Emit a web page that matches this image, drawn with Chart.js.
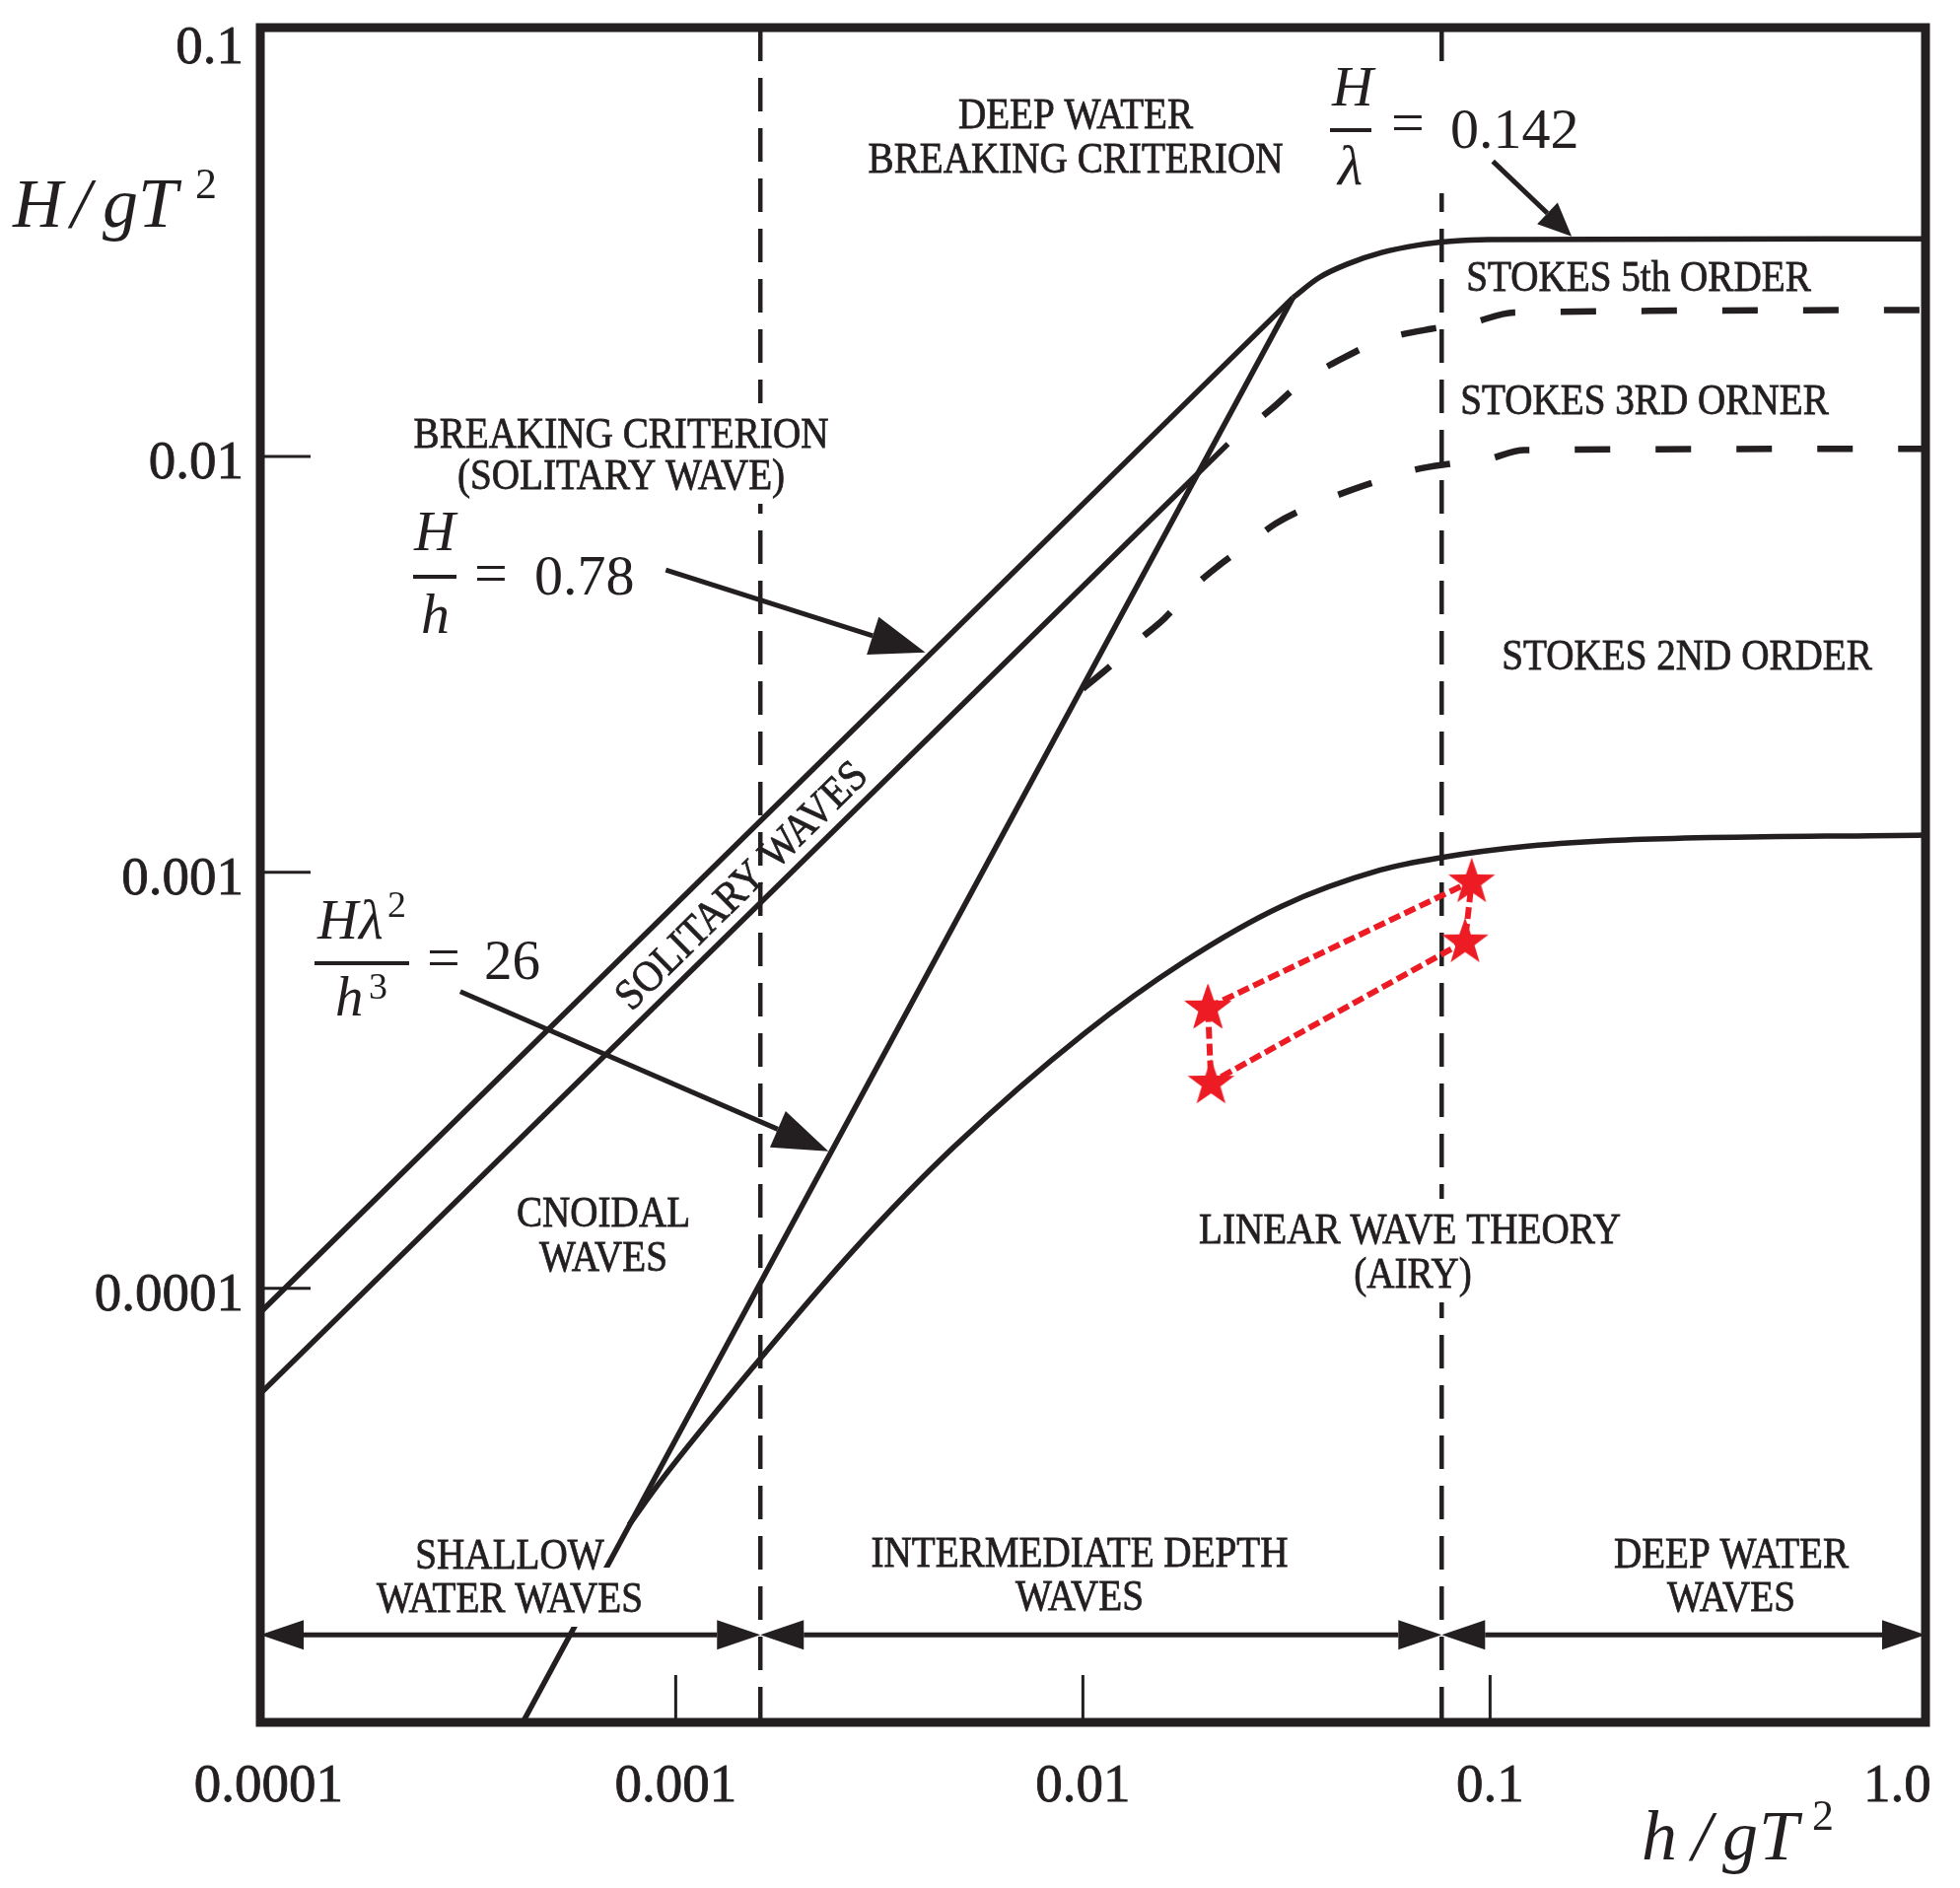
<!DOCTYPE html>
<html>
<head>
<meta charset="utf-8">
<title>Ranges of suitability for wave theories</title>
<script src="https://cdn.jsdelivr.net/npm/chart.js@4.4.1/dist/chart.umd.min.js"></script>
<style>
  html, body { margin: 0; padding: 0; background: #fff; }
  #chart { display: block; }
</style>
</head>
<body>
<canvas id="chart" width="1988" height="1915"></canvas>
<script>
// ===== Axes (h/gT^2 horizontal, H/gT^2 vertical, both log) =====
const xRange = [9.544e-5, 1.173];
const yRange = [9.045e-6, 0.1074];
const xTickValues = [0.0001, 0.001, 0.01, 0.1, 1];
const xTickLabels = ['0.0001', '0.001', '0.01', '0.1', '1.0'];
const yTickValues = [0.0001, 0.001, 0.01, 0.1];
const yTickLabels = ['0.0001', '0.001', '0.01', '0.1'];

// ===== Depth region limits =====
const shallowLimit = 0.001614;
const deepLimit = 0.07606;
const regionArrowY = 1.468e-5;

// ===== Curves =====
// H/h = 0.78 (solitary breaking)
const breakLineX = [9.544e-5, 0.0328];
const breakLineY = [8.75e-5, 0.02409];
// H/L = 0.142 (deep water breaking)
const deepBreakX = [0.0328, 0.03805, 0.04476, 0.05418, 0.06649, 0.07992, 0.09881, 1.173];
const deepBreakY = [0.02409, 0.02692, 0.02904, 0.03091, 0.03222, 0.03290, 0.03323, 0.03335];
// solitary / cnoidal
const solitaryX = [9.544e-5, 0.02271];
const solitaryY = [5.58e-5, 0.01072];
// Stokes 3rd / 5th order (dashed)
const stokes5X = [0.02271, 0.02908, 0.03445, 0.04382, 0.05418, 0.07186, 0.08824, 0.1146, 1.173];
const stokes5Y = [0.01072, 0.01302, 0.01505, 0.01729, 0.01905, 0.02027, 0.02084, 0.02218, 0.02248];
// Ursell number H L^2 / h^3 = 26
const ursellX = [4.211e-4, 0.0328];
const ursellY = [9.045e-6, 0.02409];
// Stokes 2nd / 3rd order (dashed)
const stokes3X = [0.01, 0.01185, 0.01384, 0.01583, 0.01863, 0.02146, 0.02578, 0.0297, 0.03672, 0.04382,
                  0.05379, 0.06465, 0.07992, 0.09811, 0.1213, 1.173];
const stokes3Y = [0.002763, 0.003173, 0.003644, 0.004071, 0.00484, 0.005444, 0.006209, 0.006887, 0.00764, 0.008188,
                  0.008774, 0.009273, 0.009601, 0.009835, 0.01036, 0.01043];
// linear (Airy) / Stokes 2nd order
const linearX = [0.0007682, 0.0009279, 0.001602, 0.002753, 0.004808, 0.01011, 0.0176, 0.03077, 0.05379,
                 0.07606, 0.1239, 0.215, 1.173];
const linearY = [2.7e-5, 3.486e-5, 6.726e-5, 1.245e-4, 2.181e-4, 4.108e-4, 6.073e-4, 8.291e-4, 1.013e-3,
                 1.086e-3, 1.156e-3, 1.196e-3, 1.23e-3];
// test cases (red stars), closed loop
const caseX = [0.02028, 0.09013, 0.08681, 0.02064, 0.02028];
const caseY = [4.734e-4, 9.522e-4, 6.829e-4, 3.125e-4, 4.734e-4];

// ===== Pointer arrows (from, to) =====
const pointerFromX = [9.456e-4, 2.958e-4, 0.1016];
const pointerFromY = [5.332e-3, 5.168e-4, 0.05122];
const pointerToX = [4.103e-3, 2.372e-3, 0.1586];
const pointerToY = [3.377e-3, 2.136e-4, 0.03381];

const ink = '#231f20';
const red = '#ed1c24';
const serif = '"Liberation Serif", "Times New Roman", serif';

// ===== Star marker =====
const starImg = document.createElement('canvas');
starImg.width = 52;
starImg.height = 52;
(function () {
    const c = starImg.getContext('2d');
    c.fillStyle = red;
    c.beginPath();
    for (let i = 0; i < 10; i++) {
        const r = i % 2 ? 10 : 25;
        const a = -Math.PI / 2 + i * Math.PI / 5;
        c.lineTo(26 + r * Math.cos(a), 27 + r * Math.sin(a));
    }
    c.closePath();
    c.fill();
})();

function pts(xs, ys) { return xs.map((x, i) => ({ x: x, y: ys[i] })); }

function lineSet(xs, ys, extra) {
    return Object.assign({
        data: pts(xs, ys), showLine: true, borderColor: ink, borderWidth: 5.5,
        pointRadius: 0, fill: false, tension: 0
    }, extra || {});
}

const dashCurve = { borderWidth: 6.5, borderDash: [36, 46], cubicInterpolationMode: 'monotone' };
const dashVert = { borderWidth: 4.5, borderDash: [34, 17] };

// ===== Labels (caps, centre x / centre y) =====
const capsLabels = [
    ['DEEP WATER', 1091, 115, false],
    ['BREAKING CRITERION', 1091, 160, false],
    ['BREAKING CRITERION', 630, 439, true],
    ['(SOLITARY WAVE)', 630, 481, true],
    ['STOKES 5th ORDER', 1662, 280, false],
    ['STOKES 3RD ORNER', 1668, 405, false],
    ['STOKES 2ND ORDER', 1711, 664, false],
    ['CNOIDAL', 612, 1229, false],
    ['WAVES', 612, 1274, false],
    ['LINEAR WAVE THEORY', 1430, 1246, true],
    ['(AIRY)', 1433, 1291, true],
    ['SHALLOW', 517, 1576, false],
    ['WATER WAVES', 517, 1620, true],
    ['INTERMEDIATE DEPTH', 1095, 1574, false],
    ['WAVES', 1095, 1618, false],
    ['DEEP WATER', 1756, 1575, false],
    ['WAVES', 1756, 1619, false]
];

// formula glyphs: text, left x, baseline y, size, italic
const formulaGlyphs = [
    ['H', 420, 558, 58, true], ['h', 427, 642, 58, true], ['=', 481, 601, 60, false], ['0.78', 542, 603, 58, false],
    ['H', 322, 952, 57, true], ['\u03bb', 364, 952, 57, true], ['2', 393, 930, 38, false],
    ['h', 340, 1030, 57, true], ['3', 374, 1013, 38, false], ['=', 433, 991, 60, false], ['26', 491, 993, 57, false],
    ['H', 1351, 107, 58, true], ['\u03bb', 1357, 187, 58, true], ['=', 1411, 144, 60, false], ['0.142', 1471, 150, 58, false],
    ['H', 13, 230, 70, true], ['/', 72, 230, 72, true], ['g', 104, 230, 72, true], ['T', 140, 230, 72, true], ['2', 198, 201, 44, false],
    ['h', 1665, 1886, 72, true], ['/', 1716, 1886, 72, true], ['g', 1747, 1886, 72, true], ['T', 1784, 1886, 72, true], ['2', 1838, 1856, 44, false]
];
const fracBars = [[419, 463, 585], [319, 415, 977], [1349, 1391, 132]];

function arrowHead(ctx, x1, y1, x2, y2, len, half) {
    const a = Math.atan2(y2 - y1, x2 - x1);
    const bx = x2 - len * Math.cos(a), by = y2 - len * Math.sin(a);
    ctx.beginPath();
    ctx.moveTo(x2, y2);
    ctx.lineTo(bx + half * Math.sin(a), by - half * Math.cos(a));
    ctx.lineTo(bx - half * Math.sin(a), by + half * Math.cos(a));
    ctx.closePath();
    ctx.fill();
    return [bx, by];
}

function drawArrow(ctx, x1, y1, x2, y2, len, half, both) {
    let s = [x1, y1];
    if (both) s = arrowHead(ctx, x2, y2, x1, y1, len, half);
    const e = arrowHead(ctx, x1, y1, x2, y2, len, half);
    ctx.beginPath();
    ctx.moveTo(s[0], s[1]);
    ctx.lineTo(e[0], e[1]);
    ctx.stroke();
}

// ===== Overlay plugin =====
const overlay = {
    id: 'overlay',
    beforeDraw(chart) {
        const ctx = chart.ctx;
        ctx.save();
        ctx.fillStyle = '#fff';
        ctx.fillRect(0, 0, chart.width, chart.height);
        ctx.restore();
    },
    afterDatasetsDraw(chart) {
        const ctx = chart.ctx, a = chart.chartArea;
        const px = v => chart.scales.x.getPixelForValue(v);
        const py = v => chart.scales.y.getPixelForValue(v);
        ctx.save();

        // white boxes behind some labels
        ctx.font = '44px ' + serif;
        ctx.fillStyle = '#fff';
        capsLabels.forEach(([t, x, y, bg]) => {
            if (!bg) return;
            const w = ctx.measureText(t).width * 0.89;
            ctx.fillRect(x - w / 2 - 10, y - 30, w + 20, 60);
        });
        ctx.fillRect(1340, 62, 275, 134);

        // caps labels (slightly emboldened like the printed figure)
        ctx.fillStyle = ink;
        ctx.strokeStyle = ink;
        ctx.lineWidth = 0.8;
        ctx.textAlign = 'center';
        ctx.textBaseline = 'alphabetic';
        capsLabels.forEach(([t, x, y]) => {
            ctx.save();
            ctx.translate(x, y + 14.5);
            ctx.scale(0.89, 1);
            ctx.fillText(t, 0, 0);
            ctx.strokeText(t, 0, 0);
            ctx.restore();
        });

        // rotated label inside the solitary band
        const ang = Math.atan2(py(breakLineY[1]) - py(breakLineY[0]), px(breakLineX[1]) - px(breakLineX[0]));
        ctx.save();
        ctx.translate(752, 898);
        ctx.rotate(ang);
        ctx.scale(0.92, 1);
        ctx.textBaseline = 'middle';
        ctx.fillText('SOLITARY WAVES', 0, 2);
        ctx.strokeText('SOLITARY WAVES', 0, 2);
        ctx.restore();

        // formulas and axis titles
        ctx.textAlign = 'left';
        formulaGlyphs.forEach(([t, x, y, s, it]) => {
            ctx.font = (it ? 'italic ' : '') + s + 'px ' + serif;
            ctx.fillText(t, x, y);
        });
        fracBars.forEach(([x1, x2, y]) => ctx.fillRect(x1, y - 2, x2 - x1, 4));

        // region arrows along the bottom
        ctx.fillStyle = ink;
        ctx.lineWidth = 5;
        const bounds = [xRange[0], shallowLimit, deepLimit, xRange[1]];
        const ay = py(regionArrowY);
        for (let i = 0; i < 3; i++) {
            drawArrow(ctx, px(bounds[i]), ay, px(bounds[i + 1]), ay, 44, 15, true);
        }

        // pointer arrows
        pointerFromX.forEach((fx, i) => {
            const big = i < 2;
            drawArrow(ctx, px(fx), py(pointerFromY[i]), px(pointerToX[i]), py(pointerToY[i]),
                big ? 56 : 34, big ? 20 : 15, false);
        });

        // inner tick marks
        ctx.lineWidth = 3;
        ctx.beginPath();
        xTickValues.slice(1, 4).forEach(v => { ctx.moveTo(px(v), a.bottom); ctx.lineTo(px(v), a.bottom - 48); });
        yTickValues.slice(0, 3).forEach(v => { ctx.moveTo(a.left, py(v)); ctx.lineTo(a.left + 51, py(v)); });
        ctx.stroke();

        // frame
        ctx.lineWidth = 9;
        ctx.strokeRect(a.left, a.top, a.right - a.left, a.bottom - a.top);
        ctx.restore();
    }
};

// keep the plot box fixed: no extra room for overhanging tick labels
function noPad(s) {
    s.paddingTop = 0;
    s.paddingBottom = 0;
    s.paddingLeft = 0;
    s.paddingRight = 0;
}

// ===== Chart =====
const chart = new Chart(document.getElementById('chart'), {
    type: 'scatter',
    data: {
        datasets: [
            lineSet(caseX, caseY, { borderColor: red, borderWidth: 6, borderDash: [12, 5], pointStyle: starImg, pointRadius: 12 }),
            lineSet(breakLineX, breakLineY),
            lineSet(deepBreakX, deepBreakY, { cubicInterpolationMode: 'monotone' }),
            lineSet(solitaryX, solitaryY),
            lineSet(stokes5X, stokes5Y, Object.assign({ borderDashOffset: 36 }, dashCurve)),
            lineSet(ursellX, ursellY),
            lineSet(stokes3X, stokes3Y, dashCurve),
            lineSet(linearX, linearY, { cubicInterpolationMode: 'monotone' }),
            lineSet([shallowLimit, shallowLimit], [yRange[1], yRange[0]], dashVert),
            lineSet([deepLimit, deepLimit], [yRange[1], yRange[0]], dashVert)
        ]
    },
    options: {
        responsive: false,
        devicePixelRatio: 1,
        animation: false,
        events: [],
        layout: { padding: { left: 0, top: 28, right: 35, bottom: 0 } },
        plugins: { legend: { display: false }, tooltip: { enabled: false } },
        scales: {
            x: {
                type: 'logarithmic',
                position: 'bottom',
                min: xRange[0],
                max: xRange[1],
                grid: { display: false, drawTicks: false },
                border: { display: false },
                afterBuildTicks: s => { s.ticks = xTickValues.map(v => ({ value: v })); },
                afterFit: s => { s.height = 168; noPad(s); },
                ticks: {
                    autoSkip: false, maxRotation: 0, padding: 33, color: ink,
                    textStrokeColor: ink, textStrokeWidth: 0.8,
                    font: { family: serif, size: 55 },
                    callback: (v, i) => xTickLabels[i]
                }
            },
            y: {
                type: 'logarithmic',
                position: 'left',
                min: yRange[0],
                max: yRange[1],
                grid: { display: false, drawTicks: false },
                border: { display: false },
                afterBuildTicks: s => { s.ticks = yTickValues.map(v => ({ value: v })); },
                afterFit: s => { s.width = 264; noPad(s); },
                ticks: {
                    autoSkip: false, padding: 17, labelOffset: 8, color: ink,
                    textStrokeColor: ink, textStrokeWidth: 0.8,
                    font: { family: serif, size: 55 },
                    callback: (v, i) => yTickLabels[i]
                }
            }
        }
    },
    plugins: [overlay]
});
</script>
</body>
</html>
